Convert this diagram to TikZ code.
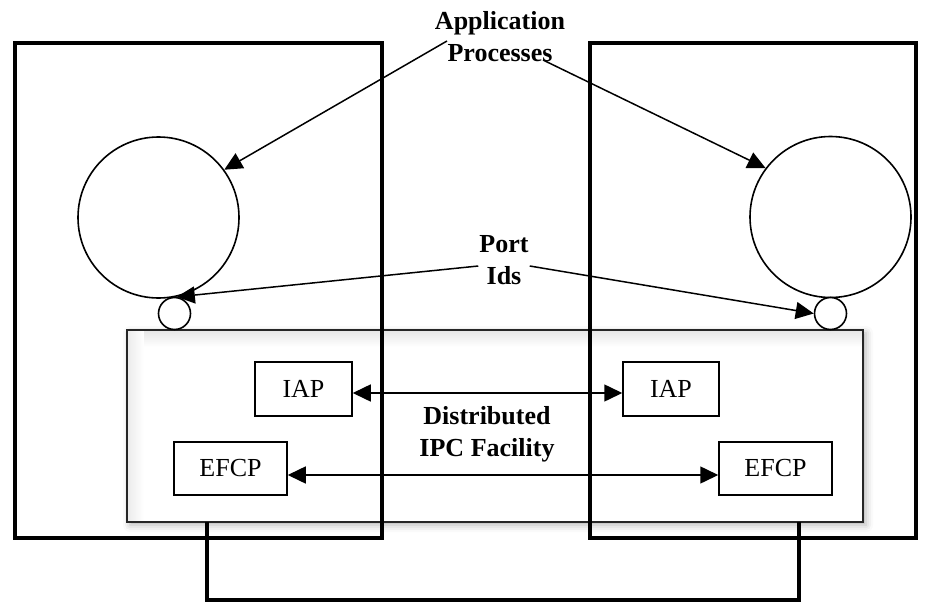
\documentclass[tikz,border=0pt]{standalone}
\usepackage{fontspec}
\setmainfont{Liberation Serif}
\usetikzlibrary{arrows.meta,calc,shadows.blur}
\begin{document}
\begin{tikzpicture}[x=1pt,y=-1pt,
  host/.style={draw,line width=4pt,rectangle,inner sep=0pt},
  hostline/.style={line width=4pt},
  thinline/.style={line width=1.5pt},
  tip/.style={-{Triangle[length=18pt,width=17pt]}},
  tips/.style={{Triangle[length=18pt,width=17pt]}-{Triangle[length=18pt,width=17pt]}},
  box/.style={draw,line width=1.5pt,rectangle,inner sep=0pt,font=\fontsize{26}{31}\selectfont},
  lbl/.style={font=\fontsize{26}{32}\selectfont\bfseries,align=center,inner sep=0pt},
  bigc/.style={draw,circle,line width=1.6pt,minimum size=161pt,inner sep=0pt},
  smallc/.style={draw,circle,line width=1.6pt,minimum size=32pt,inner sep=0pt,fill=white}]
\useasboundingbox (0,0) rectangle (928,602);
% Distributed IPC Facility box
\node[rectangle,inner sep=0pt,minimum width=736pt,minimum height=192pt,fill=white,
  blur shadow={shadow xshift=3pt,shadow yshift=-3pt,shadow blur radius=7pt,shadow opacity=30}] (dif) at (495,426) {};
\shade[top color=black!10,bottom color=white] (dif.north west) rectangle ($(dif.north east)+(0,17)$);
\shade[left color=black!8,right color=white] (dif.north west) rectangle ($(dif.south west)+(17,0)$);
\draw[line width=1.5pt,black!85] (dif.north west) rectangle (dif.south east);
\node[lbl] (diflbl) at (487,434) {Distributed\\IPC Facility};
% inner boxes
\node[box,minimum width=97pt,minimum height=54pt] (iapL) at (303.5,389) {IAP};
\node[box,minimum width=96pt,minimum height=54pt] (iapR) at (671,389) {IAP};
\node[box,minimum width=113pt,minimum height=53pt] (efcpL) at (230.5,468.5) {EFCP};
\node[box,minimum width=113pt,minimum height=53pt] (efcpR) at (775.5,468.5) {EFCP};
% application processes and ports
\node[bigc] (apL) at (158.5,217.5) {};
\node[bigc] (apR) at (830.5,217) {};
\node[smallc] (ptL) at (174.5,313.5) {};
\node[smallc] (ptR) at (830.5,313.5) {};
% host boxes
\node[host,minimum width=367pt,minimum height=495pt] (hostL) at (198.5,290.5) {};
\node[host,minimum width=326pt,minimum height=495pt] (hostR) at (753,290.5) {};
% connector between hosts
\draw[hostline] ($(dif.south west)+(80,0)$) -- ++(0,78) -| ($(dif.south east)+(-64,0)$);
% labels
\node[lbl] (aplbl) at (500,37) {Application\\Processes};
\node[lbl] (pilbl) at (504,260) {Port\\Ids};
% arrows
\draw[thinline,tip] ($(aplbl.center)+(-53,4)$) -- (apL.36);
\draw[thinline,tip] ($(aplbl.center)+(43,23)$) -- (apR.143);
\draw[thinline,tip] ($(pilbl.west)+(-1,6)$) -- (ptL.82);
\draw[thinline,tip] ($(pilbl.east)+(1,6)$) -- (ptR.west);
\draw[thinline,tips] ($(iapL.east)+(0,4)$) -- ($(iapR.west)+(0,4)$);
\draw[thinline,tips] ($(efcpL.east)+(0,6.5)$) -- ($(efcpR.west)+(0,6.5)$);
\end{tikzpicture}
\end{document}
